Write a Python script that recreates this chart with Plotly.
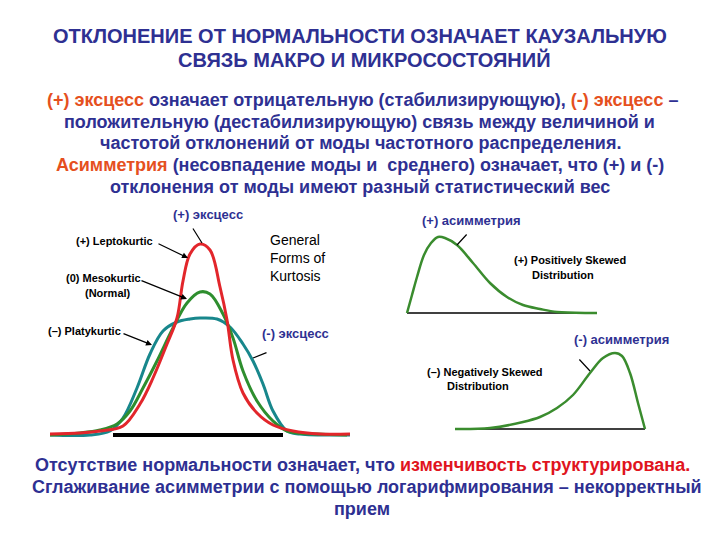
import plotly.graph_objects as go

W, H = 720, 540

# ---- data (x = offset from centre, y = height) ----
kurt_red_x = [-150, -120, -100, -77, -60, -47, -33, -23, -17, -10, 0, 10, 20, 27, 33, 43, 57, 73, 93, 120, 150]
kurt_red_y = [1, 2, 4, 9, 31, 57, 91, 117, 154, 181, 191, 185, 148, 115, 75, 42, 22, 10, 4, 1, 1]
kurt_green_x = [-150, -120, -100, -83, -70, -57, -43, -27, -13, 0, 10, 23, 33, 43, 57, 73, 87, 117, 147]
kurt_green_y = [0, 2, 5, 11, 24, 47, 74, 107, 132, 143, 141, 121, 97, 64, 34, 14, 4, 1, 0]
kurt_teal_x = [-150, -110, -90, -77, -63, -50, -37, -23, -10, 0, 17, 30, 43, 53, 63, 73, 87, 100, 150]
kurt_teal_y = [0, 0, 4, 17, 47, 81, 104, 113, 116, 117, 116, 108, 91, 74, 51, 24, 4, 1, 0]
kurt_base_x = [-87, 83]

pos_x = [0, 5, 10, 17, 24, 31, 38, 50, 66, 83, 100, 116, 133, 150, 183, 190]
pos_y = [0, 18, 36, 58, 70, 76, 75, 68, 50, 30, 16, 8, 4, 1, 0, 0]
neg_x = [0, 35, 68, 85, 102, 118, 135, 148, 160, 167, 175, 183, 190]
neg_y = [0, 1, 7, 12, 21, 34, 56, 71, 76, 73, 56, 26, 0]
skew_base_x = [0, 190]

NAVY = "#2E3092"
ORANGE = "#E5501E"
RED = "#E0141E"
C_RED = "#E2262B"
C_GREEN = "#2E8E2E"
C_TEAL = "#18878C"
C_SKEW = "#3A8C2E"

FONT = "Liberation Sans, Arial, sans-serif"
NARROW = "Liberation Sans Narrow, Arial Narrow, Liberation Sans, sans-serif"


def fx(p):
    return p / W


def fy(p):
    return 1 - p / H


fig = go.Figure()

# kurtosis panel
fig.add_trace(go.Scatter(x=kurt_base_x, y=[0, 0], mode="lines",
                         line=dict(color="black", width=4), xaxis="x", yaxis="y"))
fig.add_trace(go.Scatter(x=kurt_teal_x, y=kurt_teal_y, mode="lines",
                         line=dict(color=C_TEAL, width=3, shape="spline"), xaxis="x", yaxis="y"))
fig.add_trace(go.Scatter(x=kurt_green_x, y=kurt_green_y, mode="lines",
                         line=dict(color=C_GREEN, width=3, shape="spline"), xaxis="x", yaxis="y"))
fig.add_trace(go.Scatter(x=kurt_red_x, y=kurt_red_y, mode="lines",
                         line=dict(color=C_RED, width=3, shape="spline"), xaxis="x", yaxis="y"))

# positive skew
fig.add_trace(go.Scatter(x=skew_base_x, y=[0, 0], mode="lines",
                         line=dict(color="black", width=1.5), xaxis="x2", yaxis="y2"))
fig.add_trace(go.Scatter(x=pos_x, y=pos_y, mode="lines",
                         line=dict(color=C_SKEW, width=2.5, shape="spline"), xaxis="x2", yaxis="y2"))
# negative skew
fig.add_trace(go.Scatter(x=skew_base_x, y=[0, 0], mode="lines",
                         line=dict(color="black", width=1.5), xaxis="x3", yaxis="y3"))
fig.add_trace(go.Scatter(x=neg_x, y=neg_y, mode="lines",
                         line=dict(color=C_SKEW, width=2.5, shape="spline"), xaxis="x3", yaxis="y3"))

hidden = dict(visible=False, fixedrange=True)
fig.update_layout(
    width=W, height=H, autosize=False, showlegend=False,
    margin=dict(l=0, r=0, t=0, b=0),
    paper_bgcolor="white", plot_bgcolor="rgba(0,0,0,0)",
    xaxis=dict(domain=[fx(40), fx(360)], range=[-160, 160], **hidden),
    yaxis=dict(domain=[fy(440), fy(225)], range=[-5, 210], **hidden),
    xaxis2=dict(domain=[fx(400), fx(605)], range=[-7, 198], anchor="y2", **hidden),
    yaxis2=dict(domain=[fy(318), fy(225)], range=[-5, 88], anchor="x2", **hidden),
    xaxis3=dict(domain=[fx(448), fx(653)], range=[-7, 198], anchor="y3", **hidden),
    yaxis3=dict(domain=[fy(434), fy(340)], range=[-5, 89], anchor="x3", **hidden),
)

ann = []


def text(x, y, s, size, color="black", family=FONT, xanchor="center", bold=True):
    t = f"<b>{s}</b>" if bold else s
    ann.append(dict(x=fx(x), y=fy(y), xref="paper", yref="paper", text=t, showarrow=False,
                    xanchor=xanchor, yanchor="middle",
                    font=dict(size=size, color=color, family=family)))


def arrow(x0, y0, x1, y1, head=True):
    ann.append(dict(x=fx(x1), y=fy(y1), xref="paper", yref="paper", text="",
                    ax=x0 - x1, ay=y0 - y1, axref="pixel", ayref="pixel",
                    showarrow=True, arrowhead=2 if head else 0, arrowsize=1,
                    arrowwidth=1.2, arrowcolor="black", standoff=0, startstandoff=0))


def span(s, c):
    return f"<span style='color:{c}'>{s}</span>"


# title
text(360, 36, "ОТКЛОНЕНИЕ ОТ НОРМАЛЬНОСТИ ОЗНАЧАЕТ КАУЗАЛЬНУЮ", 20, NAVY)
text(364, 59, "СВЯЗЬ МАКРО И МИКРОСОСТОЯНИЙ", 20, NAVY)

# paragraph
text(362, 100, span("(+) эксцесс", ORANGE) + " означает отрицательную (стабилизирующую), "
     + span("(-) эксцесс", ORANGE) + " –", 18, NAVY)
text(359, 122, "положительную (дестабилизирующую) связь между величиной и", 18, NAVY)
text(360, 143, "частотой отклонений от моды частотного распределения.", 18, NAVY)
text(360, 165, span("Асимметрия", ORANGE) + " (несовпадение моды и  среднего) означает, что (+) и (-)", 18, NAVY)
text(360, 187, "отклонения от моды имеют разный статистический вес", 18, NAVY)

# bottom
text(362, 465, "Отсутствие нормальности означает, что " + span("изменчивость структурирована.", RED), 18, NAVY)
text(367, 487, "Сглаживание асимметрии с помощью логарифмирования – некорректный", 18, NAVY)
text(362, 509, "прием", 18, NAVY)

# kurtosis labels
text(115, 241, "(+) Leptokurtic", 11, family=NARROW)
text(103, 278, "(0) Mesokurtic", 11, family=NARROW)
text(108, 293, "(Normal)", 11, family=NARROW)
text(84, 331, "(–) Platykurtic", 11, family=NARROW)
arrow(157, 243, 188, 258)
arrow(140, 280, 187, 299)
arrow(122, 333, 152, 345)
text(268, 240, "General", 14, xanchor="left", bold=False)
text(268, 258, "Forms of", 14, xanchor="left", bold=False)
text(268, 276, "Kurtosis", 14, xanchor="left", bold=False)

text(208, 214, "(+) эксцесс", 13, NAVY)
arrow(192, 227, 202, 243, head=False)
text(295, 333, "(-) эксцесс", 13, NAVY)
arrow(268, 352, 253, 358, head=False)

# skew labels
text(471, 221, "(+) асимметрия", 13, NAVY)
arrow(468, 233, 457, 245, head=False)
text(512, 260, "(+) Positively Skewed", 11, family=NARROW, xanchor="left")
text(530, 275, "Distribution", 11, family=NARROW, xanchor="left")

text(621, 339, "(-) асимметрия", 13, NAVY)
arrow(578, 358, 590, 371, head=False)
text(425, 372, "(–) Negatively Skewed", 11, family=NARROW, xanchor="left")
text(445, 386, "Distribution", 11, family=NARROW, xanchor="left")

fig.update_layout(annotations=ann)
fig.write_html("out.html")
